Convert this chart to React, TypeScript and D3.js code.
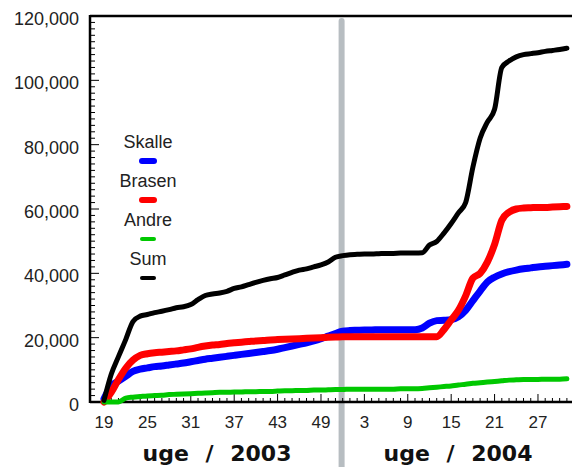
import React from "react";
import * as d3 from "d3";

const weekLabels: number[] = [
  19, 20, 21, 22, 23, 24, 25, 26, 27, 28, 29, 30, 31, 32, 33, 34, 35, 36, 37, 38, 39, 40, 41, 42, 43, 44, 45, 46, 47, 48, 49, 50, 51, 52,
  1, 2, 3, 4, 5, 6, 7, 8, 9, 10, 11, 12, 13, 14, 15, 16, 17, 18, 19, 20, 21, 22, 23, 24, 25, 26, 27, 28, 29, 30, 31,
];

const skalle: number[] = [
  1000, 5000, 6500, 8000, 9500, 10200, 10600, 11000, 11200, 11500, 11800, 12100, 12500, 12900, 13300, 13600, 13900, 14200, 14500, 14800,
  15100, 15400, 15700, 16000, 16400, 16900, 17400, 17900, 18400, 19000, 19700, 20500, 21300, 22000,
  22200, 22300, 22400, 22400, 22500, 22500, 22500, 22500, 22500, 22500, 23000, 24500, 25300, 25400, 25600, 26500, 28500, 31500, 34500,
  37300, 38800, 39800, 40500, 41000, 41400, 41700, 42000, 42200, 42400, 42600, 42800,
];

const brasen: number[] = [
  0, 3000, 7000, 10500, 13000, 14500, 15000, 15300, 15500, 15700, 15900, 16200, 16500, 17000, 17400, 17700, 17900, 18200, 18400, 18600,
  18800, 19000, 19100, 19300, 19400, 19500, 19600, 19700, 19800, 19900, 20000, 20100, 20200, 20300,
  20300, 20300, 20300, 20300, 20300, 20300, 20300, 20300, 20300, 20300, 20300, 20300, 20300, 22500, 25500, 28500, 33000, 38500, 40000,
  43500, 49000, 56500, 59000, 60000, 60300, 60400, 60500, 60500, 60600, 60700, 60800,
];

const andre: number[] = [
  0, 0, 0, 1200, 1500, 1700, 1900, 2000, 2100, 2300, 2400, 2500, 2600, 2700, 2800, 2900, 3000, 3000, 3100, 3100,
  3200, 3200, 3300, 3300, 3400, 3500, 3500, 3600, 3600, 3700, 3700, 3800, 3900, 3900,
  4000, 4000, 4000, 4000, 4000, 4000, 4000, 4100, 4100, 4100, 4200, 4400, 4600, 4800, 5000, 5300, 5500, 5800, 6000,
  6200, 6400, 6600, 6800, 6900, 7000, 7000, 7000, 7100, 7100, 7100, 7200,
];

const sum: number[] = [
  500, 8600, 14100, 19400, 25000, 26700, 27200, 27800, 28200, 28700, 29300, 29600, 30300, 31800, 33100, 33600, 33900, 34400, 35300, 35800,
  36500, 37200, 37800, 38300, 38700, 39500, 40300, 41000, 41400, 42000, 42600, 43500, 45000, 45500,
  45800, 45900, 46000, 46000, 46100, 46200, 46200, 46300, 46300, 46300, 46400, 48800, 49900, 52500, 55500, 58800, 62000, 73000, 82000,
  87000, 91000, 104000, 106000, 107300, 108000, 108300, 108600, 109000, 109300, 109600, 110000,
];

const seriesNames: string[] = ["Skalle", "Brasen", "Andre", "Sum"];
const seriesColors: string[] = ["#0000ff", "#ff0000", "#00c800", "#000000"];
const seriesWidths: number[] = [7, 7, 5, 5];
const yTicks: number[] = [0, 20000, 40000, 60000, 80000, 100000, 120000];
const yearLabels: string[] = ["uge / 2003", "uge / 2004"];
const yearBreakIndex = 32.85;

export default function App() {
  const W = 572;
  const H = 467;
  const axisLeft = 90;
  const axisBottom = 402;
  const axisTop = 16;
  const x = d3.scaleLinear().domain([0, weekLabels.length - 1]).range([104, 566.9]);
  const y = d3.scaleLinear().domain([0, 120000]).range([axisBottom, axisTop]);
  const series = [skalle, brasen, andre, sum];
  const line = d3
    .line<number>()
    .x((_, i) => x(i))
    .y((d) => y(d))
    .curve(d3.curveMonotoneX);
  const fmt = d3.format(",");
  const minorY = d3.range(0, 120001, 2000);
  const xIdx = d3.range(0, weekLabels.length);
  const font = "'Liberation Sans', Arial, sans-serif";
  const bold = "'DejaVu Sans', Verdana, sans-serif";
  const bx = x(yearBreakIndex);

  return (
    <svg width={W} height={H} style={{ position: "absolute", left: 0, top: 0, background: "#fff" }}>
      <rect x={0} y={0} width={W} height={H} fill="#fff" />
      {/* year divider */}
      <line x1={bx} x2={bx} y1={21} y2={H + 5} stroke="#b7bdc1" strokeWidth={6} strokeLinecap="round" />
      {/* y axis ticks */}
      {minorY.map((v) => (
        <line
          key={"ym" + v}
          x1={axisLeft}
          x2={axisLeft + (v % 20000 === 0 ? 9 : 5)}
          y1={y(v)}
          y2={y(v)}
          stroke="#000"
          strokeWidth={1}
        />
      ))}
      {xIdx.map((i) => (
        <line
          key={"xm" + i}
          x1={x(i)}
          x2={x(i)}
          y1={axisBottom}
          y2={axisBottom - (i % 6 === 0 ? 8 : 4)}
          stroke="#000"
          strokeWidth={1}
        />
      ))}
      {/* frame */}
      <line x1={axisLeft} x2={W} y1={axisTop} y2={axisTop} stroke="#000" strokeWidth={2.5} />
      <line x1={axisLeft} x2={axisLeft} y1={axisTop - 1} y2={axisBottom + 1} stroke="#000" strokeWidth={2.5} />
      <line x1={axisLeft} x2={W} y1={axisBottom} y2={axisBottom} stroke="#000" strokeWidth={2.5} />
      {/* y labels */}
      {yTicks.map((v) => (
        <text key={"yl" + v} x={79} y={y(v) + 9} textAnchor="end" fontFamily={font} fontSize={18} fill="#222">
          {fmt(v)}
        </text>
      ))}
      {/* x labels */}
      {xIdx
        .filter((i) => i % 6 === 0)
        .map((i) => (
          <text key={"xl" + i} x={x(i)} y={428} textAnchor="middle" fontFamily={font} fontSize={17} fill="#222">
            {weekLabels[i]}
          </text>
        ))}
      {/* year labels */}
      <text x={217} y={461} textAnchor="middle" fontFamily={bold} fontWeight="bold" fontSize={22} wordSpacing={9} fill="#111">
        {yearLabels[0]}
      </text>
      <text x={458} y={461} textAnchor="middle" fontFamily={bold} fontWeight="bold" fontSize={22} wordSpacing={9} fill="#111">
        {yearLabels[1]}
      </text>
      {/* series */}
      {series.map((s, k) => (
        <path
          key={"s" + k}
          d={line(s) || ""}
          fill="none"
          stroke={seriesColors[k]}
          strokeWidth={seriesWidths[k]}
          strokeLinejoin="round"
          strokeLinecap="round"
        />
      ))}
      {/* legend */}
      {seriesNames.map((n, k) => (
        <g key={"lg" + n} transform={`translate(148, ${148 + k * 39})`}>
          <text x={0} y={0} textAnchor="middle" fontFamily={font} fontSize={18} fill="#222">
            {n}
          </text>
          <line
            x1={-6}
            x2={6}
            y1={13}
            y2={13}
            stroke={seriesColors[k]}
            strokeWidth={seriesWidths[k] - 1}
            strokeLinecap="round"
          />
        </g>
      ))}
    </svg>
  );
}
